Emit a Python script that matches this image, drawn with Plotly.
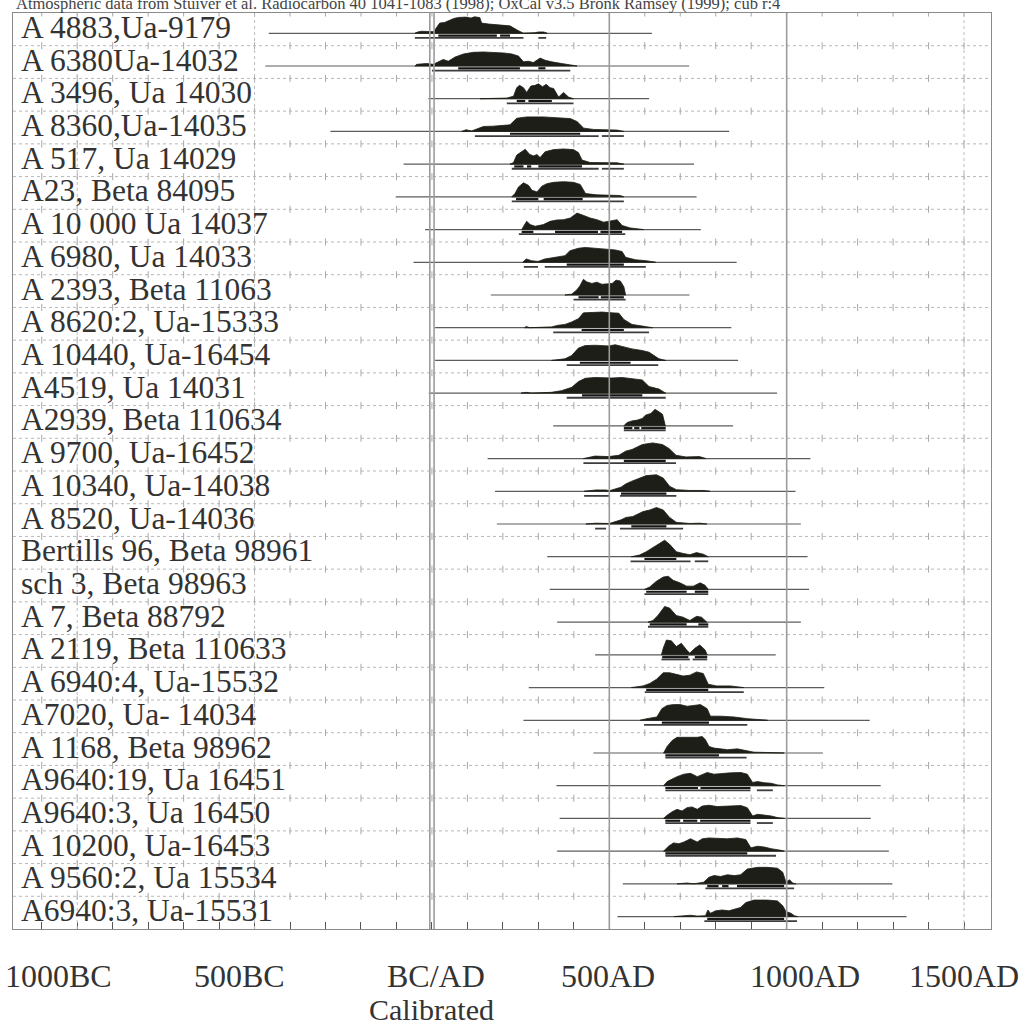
import plotly.graph_objects as go

# ---------------- data ----------------
labels = [
    "A 4883,Ua-9179", "A 6380Ua-14032", "A 3496, Ua 14030", "A 8360,Ua-14035",
    "A 517, Ua 14029", "A23, Beta 84095", "A 10 000 Ua 14037", "A 6980, Ua 14033",
    "A 2393, Beta 11063", "A 8620:2, Ua-15333", "A 10440, Ua-16454", "A4519, Ua 14031",
    "A2939, Beta 110634", "A 9700, Ua-16452", "A 10340, Ua-14038", "A 8520, Ua-14036",
    "Bertills 96, Beta 98961", "sch 3, Beta 98963", "A 7, Beta 88792", "A 2119, Beta 110633",
    "A 6940:4, Ua-15532", "A7020, Ua- 14034", "A 1168, Beta 98962", "A9640:19, Ua 16451",
    "A9640:3, Ua 16450", "A 10200, Ua-16453", "A 9560:2, Ua 15534", "A6940:3, Ua-15531",
]

line_start = [-460, -470, -10, -286, -80, -102, -19, -52, 166, 9, 9, -9, 342, 157,
              178, 183, 325, 332, 353, 460, 273, 258, 455, 351, 360, 353, 538, 523]
line_end = [620, 725, 612, 838, 739, 746, 758, 859, 726, 844, 863, 973, 849, 1067,
            1025, 1040, 1059, 1063, 1040, 969, 1106, 1234, 1102, 1265, 1237, 1288, 1298, 1338]

# probability distributions: (calendar year, relative probability 0-100)
pdf01 = [(-48, 0), (-40, 8), (-30, 12), (-10, 12), (5, 10), (13, 35), (22, 62), (35, 65), (50, 81),
         (62, 90), (75, 96), (95, 98), (110, 92), (120, 100), (135, 95), (140, 62), (160, 56),
         (185, 52), (200, 50), (220, 45), (240, 20), (258, 0), (290, 3), (300, 8), (315, 8), (325, 0)]
pdf02 = [(-48, 0), (-43, 10), (-15, 15), (4, 10), (18, 25), (32, 40), (46, 29), (65, 54), (89, 73),
         (117, 83), (145, 85), (173, 83), (202, 79), (225, 73), (244, 60), (258, 25), (272, 29),
         (286, 21), (305, 48), (319, 35), (338, 25), (366, 15), (390, 6), (409, 0)]
pdf03 = [(136, 0), (200, 2), (211, 4), (230, 15), (239, 67), (247, 81), (258, 67), (267, 38),
         (279, 77), (291, 81), (300, 90), (312, 73), (322, 87), (333, 67), (343, 62), (357, 10),
         (371, 38), (385, 10), (399, 0)]
pdf04 = [(84, 0), (96, 10), (112, 3), (126, 15), (145, 30), (173, 32), (202, 36), (220, 40),
         (239, 80), (267, 88), (314, 88), (352, 84), (390, 78), (409, 60), (428, 20), (456, 12),
         (493, 10), (522, 8), (541, 0)]
pdf05 = [(220, 0), (230, 10), (239, 55), (250, 70), (263, 90), (275, 60), (286, 50), (296, 58),
         (305, 40), (319, 75), (343, 88), (371, 92), (399, 88), (413, 70), (423, 25), (446, 10),
         (484, 10), (522, 8), (541, 0)]
pdf06 = [(225, 0), (234, 20), (244, 60), (258, 85), (272, 70), (282, 40), (296, 30), (310, 65),
         (324, 80), (343, 88), (371, 92), (399, 88), (418, 75), (433, 20), (465, 12), (503, 12),
         (531, 8), (541, 0)]
pdf07 = [(253, 0), (258, 20), (267, 50), (277, 30), (291, 20), (314, 30), (333, 50), (352, 58),
         (371, 60), (390, 70), (409, 100), (428, 85), (446, 70), (465, 60), (484, 45), (503, 52),
         (522, 60), (536, 25), (559, 10), (597, 0)]
pdf08 = [(256, 0), (266, 20), (280, 10), (299, 5), (318, 20), (346, 30), (375, 40), (389, 70),
         (413, 85), (432, 90), (460, 85), (498, 80), (517, 75), (536, 65), (546, 30), (574, 15),
         (603, 10), (631, 0)]
pdf09 = [(375, 0), (394, 5), (408, 30), (417, 55), (427, 95), (436, 80), (451, 70), (465, 78),
         (479, 65), (498, 68), (508, 70), (519, 90), (531, 85), (541, 50), (546, 0)]
pdf10 = [(261, 0), (266, 8), (275, 0), (337, 5), (356, 15), (375, 20), (394, 35), (413, 55),
         (427, 90), (451, 92), (479, 95), (508, 90), (527, 88), (541, 50), (564, 20), (593, 10),
         (622, 0)]
pdf11 = [(337, 0), (375, 10), (394, 30), (413, 75), (432, 90), (460, 92), (498, 88), (517, 95),
         (536, 85), (564, 70), (593, 60), (612, 50), (640, 10), (659, 0)]
pdf12 = [(251, 0), (266, 5), (280, 0), (337, 5), (365, 15), (394, 35), (413, 70), (432, 90),
         (460, 95), (508, 92), (536, 95), (564, 88), (593, 80), (612, 40), (640, 25), (659, 0)]
pdf13 = [(541, 0), (550, 20), (564, 30), (579, 35), (593, 45), (602, 65), (617, 75), (629, 100),
         (640, 85), (650, 70), (658, 0)]
pdf14 = [(427, 0), (460, 15), (498, 12), (527, 20), (546, 45), (564, 55), (593, 85), (622, 95),
         (650, 85), (669, 60), (688, 20), (716, 10), (754, 12), (773, 0)]
pdf15 = [(429, 0), (462, 8), (491, 8), (500, 3), (533, 25), (547, 45), (562, 60), (585, 80),
         (604, 95), (633, 100), (652, 80), (670, 30), (689, 10), (727, 5), (765, 5), (784, 0)]
pdf16 = [(434, 0), (462, 5), (500, 3), (533, 25), (547, 40), (566, 45), (595, 75), (614, 85),
         (633, 100), (652, 85), (670, 40), (689, 10), (727, 3), (755, 5), (775, 0)]
pdf17 = [(562, 0), (585, 10), (604, 30), (623, 55), (642, 80), (656, 100), (670, 75), (689, 30),
         (708, 20), (727, 12), (746, 25), (765, 15), (779, 0)]
pdf18 = [(599, 0), (614, 15), (633, 50), (652, 75), (666, 80), (680, 55), (699, 40), (718, 20),
         (737, 20), (756, 40), (770, 25), (779, 0)]
pdf19 = [(609, 0), (623, 10), (637, 40), (656, 95), (670, 85), (689, 40), (708, 30), (727, 10),
         (746, 35), (760, 30), (775, 0)]
pdf20 = [(647, 0), (652, 40), (661, 90), (675, 85), (689, 50), (703, 70), (718, 30), (727, 10),
         (741, 40), (755, 60), (770, 30), (776, 0)]
pdf21 = [(562, 0), (595, 10), (614, 25), (633, 50), (652, 90), (670, 90), (689, 80), (708, 70),
         (727, 75), (746, 95), (765, 85), (779, 20), (803, 10), (841, 10), (879, 0)]
pdf22 = [(587, 0), (606, 10), (634, 20), (648, 70), (663, 90), (681, 95), (700, 95), (719, 85),
         (738, 90), (757, 95), (776, 70), (785, 25), (814, 25), (852, 20), (889, 10), (927, 3),
         (946, 0)]
pdf23 = [(653, 0), (663, 40), (677, 75), (691, 95), (719, 95), (748, 95), (762, 100), (771, 80),
         (781, 40), (795, 30), (814, 25), (833, 20), (861, 25), (885, 15), (908, 5), (946, 3),
         (993, 0)]
pdf24 = [(653, 0), (663, 25), (677, 40), (691, 55), (710, 70), (729, 75), (748, 55), (762, 70),
         (776, 80), (795, 70), (814, 75), (842, 78), (871, 80), (889, 70), (904, 20), (918, 25),
         (937, 18), (956, 15), (974, 5), (993, 0)]
pdf25 = [(653, 0), (663, 20), (677, 40), (691, 55), (705, 45), (719, 65), (733, 70), (748, 55),
         (762, 75), (781, 80), (804, 72), (833, 75), (871, 78), (889, 65), (904, 15), (918, 25),
         (937, 20), (956, 15), (974, 5), (993, 0)]
pdf26 = [(653, 0), (667, 30), (681, 50), (696, 45), (710, 55), (729, 75), (748, 55), (762, 75),
         (781, 80), (804, 78), (833, 75), (861, 80), (885, 70), (899, 20), (918, 30), (937, 25),
         (956, 15), (984, 5), (993, 0)]
pdf27 = [(691, 0), (719, 5), (738, 0), (766, 10), (781, 40), (795, 50), (814, 45), (833, 55),
         (852, 50), (870, 55), (889, 90), (918, 100), (946, 100), (974, 95), (989, 70), (998, 10),
         (1008, 25), (1017, 5), (1026, 0)]
pdf28 = [(682, 0), (710, 5), (729, 8), (748, 3), (771, 5), (778, 40), (785, 20), (800, 35),
         (818, 40), (837, 35), (852, 45), (870, 55), (885, 85), (908, 100), (946, 100), (974, 95),
         (989, 65), (998, 30), (1012, 20), (1022, 5), (1031, 0)]

pdfs = [pdf01, pdf02, pdf03, pdf04, pdf05, pdf06, pdf07, pdf08, pdf09, pdf10, pdf11, pdf12,
        pdf13, pdf14, pdf15, pdf16, pdf17, pdf18, pdf19, pdf20, pdf21, pdf22, pdf23, pdf24,
        pdf25, pdf26, pdf27, pdf28]

# 68.2% ranges
range68 = [
    [[18, 183], [192, 220]], [[74, 248], [300, 320]], [[239, 263], [272, 338]], [[220, 418]],
    [[232, 258], [268, 280], [300, 423]], [[237, 300], [315, 425]],
    [[253, 286], [347, 468], [475, 536]], [[380, 541]], [[413, 470], [476, 541]], [[422, 541]],
    [[417, 560]], [[423, 593]], [[541, 565], [570, 585], [590, 659]], [[541, 659]],
    [[533, 661]], [[562, 661]], [[599, 689]], [[604, 718], [741, 779]],
    [[614, 718], [751, 779]], [[649, 723], [741, 776]], [[604, 779]], [[648, 781]],
    [[658, 809]], [[658, 750], [757, 898]], [[658, 700], [708, 748], [756, 898]],
    [[658, 889]], [[776, 808], [818, 836], [860, 993]], [[776, 993]],
]
# 95.4% ranges
range95 = [
    [[-48, 258], [300, 322]], [[0, 390]], [[211, 399]], [[121, 470], [479, 541]],
    [[225, 470], [479, 541]], [[225, 541]], [[245, 545]], [[259, 299], [318, 603]],
    [[399, 546]], [[342, 612]], [[380, 638]], [[380, 659]], [[541, 659]], [[427, 688]],
    [[429, 500], [530, 689]], [[460, 491], [530, 708]], [[560, 729], [741, 779]],
    [[599, 779]], [[609, 779]], [[647, 727], [735, 776]], [[600, 879]], [[598, 889]],
    [[658, 887]], [[658, 898], [916, 961]], [[658, 898], [916, 961]], [[658, 970]],
    [[771, 1021]], [[768, 1029]],
]

axis_years = [-1000, -500, 0, 500, 1000, 1500]
axis_text = ["1000BC", "500BC", "BC/AD", "500AD", "1000AD", "1500AD"]
title_text = ("Atmospheric data from Stuiver et al. Radiocarbon 40 1041-1083 (1998); "
              "OxCal v3.5 Bronk Ramsey (1999); cub r:4")

# ---------------- geometry / style ----------------
W, H = 1027, 1026
ML, MR, MT, MB = 13, 36, 13, 97
XMIN, XMAX = -1181, 1576
NROW = len(labels)
ROW_PX = (H - MT - MB) / NROW
BASE_OFF = 0.38
PDF_SCALE = 16.5 / ROW_PX / 100.0
BAR1_OFF = 2.3 / ROW_PX
BAR2_OFF = 4.6 / ROW_PX
FONT = "Liberation Serif, Times New Roman, serif"
INK = "#1e1e18"

fig = go.Figure()

def base_of(k):
    return NROW - 1 - k + BASE_OFF

# row separators (dotted)
sx, sy = [], []
for j in range(1, NROW):
    sx += [XMIN, XMAX, None]
    sy += [j, j, None]
fig.add_trace(go.Scatter(x=sx, y=sy, mode="lines", hoverinfo="skip",
                         line=dict(color="#b8b8b8", width=1, dash="dot")))
# small ticks on separators every 100 years
tx, ty = [], []
for j in range(1, NROW + 1):
    for yr in range(-1100, 1600, 100):
        tx.append(yr)
        ty.append(j)
fig.add_trace(go.Scatter(x=tx, y=ty, mode="markers", hoverinfo="skip",
                         marker=dict(symbol="line-ns", size=5,
                                     line=dict(color="#a8a8a8", width=1))))

# long calibration lines
lx, ly = [], []
for k in range(NROW):
    b = base_of(k)
    lx += [line_start[k], line_end[k], None]
    ly += [b, b, None]
fig.add_trace(go.Scatter(x=lx, y=ly, mode="lines", hoverinfo="skip",
                         line=dict(color="#5c5c5c", width=1.2)))

# distributions
for k, pdf in enumerate(pdfs):
    b = base_of(k)
    xs = [p[0] for p in pdf]
    ys = [b + p[1] * PDF_SCALE for p in pdf]
    xs = xs + [xs[-1], xs[0]]
    ys = ys + [b, b]
    fig.add_trace(go.Scatter(x=xs, y=ys, mode="lines", fill="toself", fillcolor=INK,
                             hoverinfo="skip", line=dict(color=INK, width=0.8)))

# range bars
for ranges, off, col, wid in [(range95, BAR2_OFF, "#3c3c3c", 1.8),
                              (range68, BAR1_OFF, "#151515", 2.2)]:
    bx, by = [], []
    for k in range(NROW):
        b = base_of(k) - off
        for r in ranges[k]:
            bx += [r[0], r[1], None]
            by += [b, b, None]
    fig.add_trace(go.Scatter(x=bx, y=by, mode="lines", hoverinfo="skip",
                             line=dict(color=col, width=wid)))

# vertical reference lines
shapes = []
for xv in [-1000, -500, 1500]:
    shapes.append(dict(type="line", xref="x", yref="y", x0=xv, x1=xv, y0=0, y1=NROW,
                       line=dict(color="#bdbdbd", width=1, dash="dot"), layer="above"))
for xv in [-6, 6, 500, 1000]:
    shapes.append(dict(type="line", xref="x", yref="y", x0=xv, x1=xv, y0=0, y1=NROW,
                       line=dict(color="#9c9c9c", width=1.6), layer="above"))

annotations = []
for k, lab in enumerate(labels):
    annotations.append(dict(x=XMIN, y=NROW - k - 0.5, xref="x", yref="y", text=lab,
                            xanchor="left", yanchor="middle", xshift=7, yshift=2,
                            showarrow=False, borderpad=0,
                            font=dict(family=FONT, size=31.5, color="#333333")))
label_nudge = [-19, -15, 4, -1, 18, 0]
for yr, txt, nd in zip(axis_years, axis_text, label_nudge):
    annotations.append(dict(x=yr, y=0, xref="x", yref="paper", text=txt, xanchor="center",
                            yanchor="middle", xshift=nd, yshift=-47, showarrow=False,
                            font=dict(family=FONT, size=32, color="#333333")))
annotations.append(dict(x=0, y=0, xref="x", yref="paper", text="Calibrated", xanchor="center",
                        yanchor="middle", yshift=-80, showarrow=False, borderpad=0,
                        font=dict(family=FONT, size=30, color="#333333")))
annotations.append(dict(x=0.002, y=1, xref="paper", yref="paper", text=title_text,
                        xanchor="left", yanchor="middle", yshift=10, showarrow=False,
                        borderpad=0, font=dict(family=FONT, size=16.5, color="#444444")))

fig.update_layout(
    width=W, height=H, margin=dict(l=ML, r=MR, t=MT, b=MB),
    paper_bgcolor="white", plot_bgcolor="white", showlegend=False,
    shapes=shapes, annotations=annotations,
    xaxis=dict(range=[XMIN, XMAX], showgrid=False, zeroline=False, showticklabels=False,
               ticks="inside", tick0=0, dtick=100, ticklen=7, tickcolor="#555555",
               showline=True, linecolor="#8a8a8a", linewidth=1, mirror=True),
    yaxis=dict(range=[0, NROW], showgrid=False, zeroline=False, showticklabels=False,
               ticks="", showline=True, linecolor="#8a8a8a", linewidth=1, mirror=True),
)

fig.write_html("out.html", config={"displayModeBar": False},
               post_script="document.body.style.margin='0';")
